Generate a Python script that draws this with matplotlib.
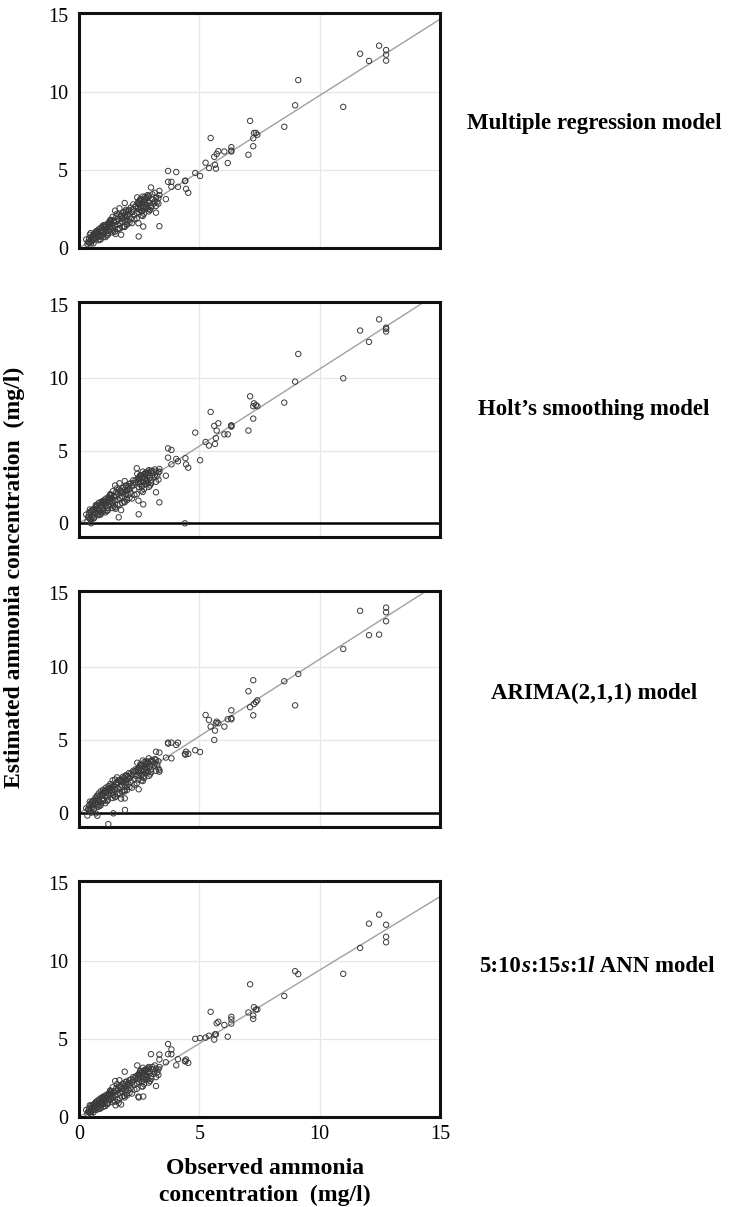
import numpy as np
import matplotlib
matplotlib.use("Agg")
import matplotlib.pyplot as plt
from matplotlib.offsetbox import TextArea, HPacker, AnnotationBbox

plt.rcParams['font.family'] = ['Liberation Serif', 'DejaVu Serif']

# observed values, shared by every panel (outliers first, then the dense cluster)
obs_high = [11.68, 12.05, 12.47, 12.76, 12.76, 12.76, 9.11, 8.98, 10.98, 8.53,
            7.11, 7.27, 7.35, 7.41, 7.24, 7.24, 7.04, 5.47, 6.33, 6.33,
            6.33, 6.04, 5.79, 5.72, 5.62, 6.18, 5.26, 5.65, 5.40, 5.69,
            4.83, 5.03, 4.42, 3.70, 4.04, 3.70, 3.84, 3.84, 4.11, 4.45,
            4.54, 3.61, 3.34, 3.34, 3.20, 3.34, 2.99, 2.48, 2.47, 2.67,
            1.90, 4.40]
obs_low = [0.30, 0.35, 0.38, 0.42, 0.45, 0.48, 0.50, 0.52, 0.55, 0.58,
           0.60, 0.62, 0.65, 0.68, 0.70, 0.72, 0.75, 0.78, 0.80, 0.82,
           0.85, 0.88, 0.90, 0.92, 0.95, 0.98, 1.00, 1.02, 1.05, 1.08,
           1.10, 1.12, 1.15, 1.18, 1.20, 1.22, 1.25, 1.28, 1.30, 1.33,
           1.35, 1.38, 1.40, 1.42, 1.45, 1.48, 1.50, 1.52, 1.55, 1.58,
           1.60, 1.62, 1.65, 1.68, 1.70, 1.72, 1.75, 1.78, 1.80, 1.83,
           1.85, 1.88, 1.90, 1.93, 1.95, 1.98, 2.00, 2.03, 2.05, 2.08,
           2.10, 2.15, 2.20, 2.25, 2.30, 2.35, 2.40, 2.42, 2.45, 2.48,
           2.50, 2.52, 2.55, 2.58, 2.60, 2.62, 2.65, 2.68, 2.70, 2.72,
           2.75, 2.78, 2.80, 2.82, 2.85, 2.88, 2.90, 2.95, 3.00, 3.05,
           3.10, 3.15, 3.20, 3.25, 3.30, 0.40, 0.55, 0.70, 1.00, 1.30]
obs_mid = [0.45, 0.60, 0.75, 0.90, 1.05, 1.20, 1.35, 1.50, 1.65, 1.80,
           1.95, 2.10, 2.25, 2.40, 2.55, 2.70, 2.85, 3.00, 3.15, 3.30,
           0.50, 0.65, 0.80, 0.95, 1.10, 1.25, 1.40, 1.55, 1.70, 1.85,
           2.00, 2.15, 2.30, 2.45, 2.60, 2.75, 2.90, 3.05, 3.20, 2.35,
           1.45, 1.60, 1.75, 1.90, 2.05, 2.20, 2.50, 2.65, 2.80, 2.95,
           0.85, 1.00, 1.15, 1.30, 2.45, 2.55, 2.60, 2.70, 2.80, 2.90]

# estimated values, multiple regression
mr_high = [12.48, 12.02, 13.00, 12.72, 12.42, 12.04, 10.79, 9.17, 9.07, 7.79,
           8.17, 7.39, 7.39, 7.28, 7.05, 6.54, 5.99, 7.07, 6.48, 6.26,
           6.20, 6.20, 6.22, 6.05, 5.86, 5.46, 5.48, 5.35, 5.14, 5.10,
           4.82, 4.63, 4.33, 4.95, 4.88, 4.25, 4.25, 3.93, 3.93, 3.80,
           3.55, 3.14, 3.67, 3.40, 2.27, 1.40, 3.89, 0.74, 1.59, 1.38,
           2.89, 4.30]
mr_low = [0.55, 0.25, 0.40, 0.60, 0.35, 0.95, 0.50, 0.70, 0.45, 0.80,
          0.55, 0.90, 0.65, 1.00, 0.60, 0.85, 1.10, 0.70, 0.95, 1.20,
          0.75, 1.05, 1.30, 0.80, 1.15, 1.00, 1.45, 0.90, 1.20, 1.35,
          1.05, 1.50, 1.25, 0.95, 1.40, 1.60, 1.15, 1.35, 1.75, 1.20,
          1.55, 1.30, 2.00, 1.10, 1.65, 1.45, 2.40, 0.90, 1.70, 2.20,
          1.50, 1.85, 1.25, 2.55, 1.60, 2.05, 0.85, 1.90, 1.70, 2.25,
          1.95, 1.40, 2.10, 1.80, 2.35, 1.55, 2.00, 2.20, 1.75, 2.45,
          2.15, 1.90, 2.30, 2.50, 2.10, 2.70, 2.25, 3.25, 2.55, 2.30,
          2.80, 2.45, 3.05, 2.60, 2.90, 2.35, 3.30, 2.70, 2.55, 3.10,
          2.85, 2.65, 3.20, 2.75, 3.00, 2.50, 3.35, 2.90, 2.70, 3.15,
          2.85, 3.00, 3.25, 2.95, 3.20, 0.35, 0.75, 1.05, 0.70, 1.80]
mr_mid = [0.85, 0.30, 1.10, 0.55, 1.45, 0.85, 1.80, 1.05, 2.15, 1.35,
          2.45, 1.65, 2.80, 1.90, 3.10, 2.20, 3.40, 2.60, 3.55, 2.85,
          0.30, 0.95, 0.50, 1.30, 0.70, 1.65, 1.00, 2.05, 1.25, 2.30,
          1.50, 2.60, 1.85, 2.95, 2.10, 3.30, 2.35, 3.45, 2.70, 2.65,
          1.75, 1.20, 2.10, 1.35, 2.40, 1.60, 3.00, 2.05, 3.25, 2.45,
          0.55, 1.35, 0.80, 1.60, 2.85, 3.15, 2.40, 3.05, 2.55, 3.30]

# Holt's smoothing
holt_high = [13.24, 12.46, 14.01, 13.44, 13.35, 13.17, 11.63, 9.73, 9.96, 8.29,
             8.72, 8.24, 8.11, 8.04, 8.04, 7.19, 6.37, 7.65, 6.73, 6.64,
             6.70, 6.11, 6.87, 6.37, 6.69, 6.11, 5.59, 5.45, 5.34, 5.85,
             6.23, 4.33, 4.47, 5.15, 4.42, 4.51, 5.04, 4.05, 4.26, 4.05,
             3.82, 3.27, 3.73, 3.55, 2.13, 1.44, 3.60, 0.62, 1.56, 1.30,
             2.90, 0.00]
holt_low = [0.60, 0.10, 0.45, 0.75, 0.30, 0.80, 0.00, 0.85, 0.40, 0.95,
            0.60, 0.35, 0.80, 1.10, 0.70, 1.00, 1.25, 0.65, 1.05, 1.40,
            0.85, 1.20, 1.45, 0.75, 1.30, 1.05, 1.55, 0.95, 1.35, 1.50,
            1.15, 1.70, 1.40, 1.05, 1.60, 1.80, 1.25, 1.50, 1.95, 1.30,
            1.70, 1.45, 2.20, 1.20, 1.85, 1.60, 2.60, 1.00, 1.90, 2.40,
            1.65, 2.05, 0.41, 2.75, 1.75, 2.25, 0.90, 2.10, 1.85, 2.45,
            2.15, 1.50, 2.30, 2.00, 2.55, 1.70, 2.20, 2.45, 1.95, 2.70,
            2.35, 2.10, 2.55, 2.75, 2.30, 2.95, 3.78, 3.40, 2.85, 2.50,
            3.05, 2.70, 3.30, 2.85, 3.15, 2.55, 3.55, 2.95, 2.80, 3.40,
            3.10, 2.90, 3.45, 3.00, 3.30, 2.75, 3.65, 3.15, 2.95, 3.45,
            3.15, 3.30, 3.55, 3.25, 3.50, 0.40, 0.90, 1.25, 0.80, 2.00]
holt_mid = [0.95, 0.35, 1.20, 0.60, 1.55, 0.90, 1.95, 1.10, 2.30, 1.40,
            2.60, 1.75, 2.95, 2.00, 3.25, 2.35, 3.55, 2.75, 3.70, 3.00,
            0.30, 1.00, 0.55, 1.40, 0.75, 1.75, 1.05, 2.15, 1.30, 2.45,
            1.60, 2.75, 1.95, 3.10, 2.25, 3.45, 2.50, 3.60, 2.85, 2.80,
            1.85, 1.25, 2.20, 1.45, 2.55, 1.70, 3.15, 2.15, 3.40, 2.60,
            0.60, 1.45, 0.85, 1.70, 3.00, 3.30, 2.55, 3.20, 2.70, 3.45]

# ARIMA(2,1,1)
arima_high = [13.80, 12.14, 12.18, 14.02, 13.70, 13.09, 9.50, 7.36, 11.20, 9.00,
              7.23, 7.45, 7.59, 7.70, 9.07, 6.68, 8.32, 5.91, 7.02, 6.48,
              6.41, 5.91, 6.14, 6.25, 5.00, 6.41, 6.70, 5.64, 6.36, 6.14,
              4.30, 4.18, 4.00, 4.82, 4.66, 4.75, 4.82, 3.75, 4.82, 4.20,
              4.05, 3.80, 4.14, 2.95, 4.20, 2.84, 3.60, 1.64, 2.30, 2.50,
              1.02, 4.05]
arima_low = [0.35, -0.15, 0.30, 0.55, 0.20, 0.65, 0.05, 0.75, 0.40, 0.85,
             0.55, 0.30, 0.75, 1.05, 0.65, 0.95, 1.20, 0.60, 1.00, 1.35,
             0.80, 1.15, 1.50, 0.70, 1.25, 1.00, 1.60, 0.90, 1.40, 1.55,
             1.20, 1.75, 1.45, 1.10, 1.65, 1.85, 1.30, 1.55, 2.00, 1.35,
             1.75, 1.50, 2.25, 1.25, 1.90, 1.65, 2.30, 1.15, 1.95, 2.45,
             1.70, 2.10, 1.40, 2.25, 1.80, 2.30, 1.00, 2.15, 1.90, 2.50,
             2.20, 1.60, 2.35, 2.05, 2.60, 1.80, 2.25, 2.50, 2.00, 2.75,
             2.40, 2.15, 2.60, 2.80, 2.35, 3.00, 2.55, 3.45, 2.90, 2.60,
             3.10, 2.75, 3.35, 2.90, 3.20, 2.65, 3.60, 3.00, 2.85, 3.50,
             3.15, 2.95, 3.55, 3.10, 3.40, 2.80, 3.75, 3.20, 3.00, 3.50,
             3.25, 3.40, 3.65, 3.30, 3.55, 0.25, 0.60, 0.00, 0.85, 1.60]
arima_mid = [0.80, 0.25, 1.15, 0.55, 1.50, 0.90, 1.90, 1.10, 2.25, 1.45,
             2.55, 1.80, 2.90, 2.05, 3.20, 2.40, 3.50, 2.80, 3.70, 3.05,
             0.15, 0.90, 0.45, 1.35, 0.70, 1.70, 1.05, 2.10, 1.30, 2.40,
             1.60, 2.70, 1.95, 3.05, 2.25, 3.40, 2.55, 3.60, 2.90, 2.85,
             1.80, 1.30, 2.20, 1.50, 2.50, 1.75, 3.10, 2.20, 3.35, 2.65,
             0.50, 1.40, 0.85, 1.70, 2.95, 3.25, 2.60, 3.15, 2.75, 3.45]
arima_extra_x = [1.22, 0.76, 1.43, 1.91]
arima_extra_y = [-0.73, -0.16, 0.00, 0.23]

# 5:10s:15s:1l ANN
ann_high = [10.82, 12.37, 12.95, 12.30, 11.53, 11.18, 9.14, 9.33, 9.16, 7.74,
            8.49, 7.03, 6.88, 6.88, 6.49, 6.28, 6.69, 6.73, 6.41, 6.24,
            5.98, 5.89, 6.09, 6.00, 4.95, 5.14, 5.08, 5.29, 5.20, 5.29,
            5.00, 5.05, 3.55, 4.67, 3.31, 4.02, 4.32, 4.02, 3.70, 3.68,
            3.46, 3.50, 4.00, 3.68, 1.98, 3.20, 4.02, 1.25, 1.31, 1.31,
            2.90, 3.60]
ann_low = [0.45, 0.20, 0.35, 0.55, 0.30, 0.70, 0.15, 0.60, 0.40, 0.75,
           0.50, 0.80, 0.55, 0.90, 0.45, 0.75, 1.00, 0.60, 0.85, 1.10,
           0.70, 0.95, 1.20, 0.75, 1.05, 0.90, 1.30, 0.85, 1.15, 1.25,
           1.00, 1.40, 1.20, 0.90, 1.35, 1.50, 1.10, 1.30, 1.65, 1.15,
           1.45, 1.25, 1.90, 1.05, 1.60, 1.40, 2.30, 0.75, 1.65, 2.10,
           1.45, 1.75, 0.90, 2.35, 1.55, 1.95, 0.80, 1.80, 1.65, 2.15,
           1.85, 1.35, 2.00, 1.70, 2.25, 1.50, 1.95, 2.10, 1.70, 2.35,
           2.05, 1.85, 2.20, 2.40, 2.05, 2.60, 2.15, 3.30, 2.45, 2.25,
           2.70, 2.40, 2.95, 2.55, 2.80, 2.30, 3.15, 2.60, 2.45, 3.00,
           2.75, 2.55, 3.05, 2.65, 2.90, 2.40, 3.20, 2.80, 2.60, 3.05,
           2.75, 2.90, 3.10, 2.85, 3.05, 0.30, 0.65, 0.95, 0.65, 1.70]
ann_mid = [0.75, 0.30, 1.00, 0.55, 1.30, 0.85, 1.65, 1.00, 1.95, 1.30,
           2.25, 1.55, 2.55, 1.80, 2.85, 2.10, 3.10, 2.45, 3.30, 2.70,
           0.30, 0.85, 0.50, 1.20, 0.70, 1.50, 0.95, 1.85, 1.20, 2.10,
           1.40, 2.40, 1.75, 2.70, 1.95, 3.00, 2.20, 3.20, 2.55, 2.50,
           1.60, 1.10, 1.95, 1.25, 2.20, 1.50, 2.80, 1.95, 3.00, 2.30,
           0.55, 1.25, 0.80, 1.50, 2.65, 2.95, 2.25, 2.85, 2.40, 3.10]

fit_slopes = [0.98, 1.06, 1.05, 0.94]
model_names = ["Multiple regression model", "Holt\u2019s smoothing model",
               "ARIMA(2,1,1) model", None]
ticks = [0, 5, 10, 15]

obs = obs_high + obs_low + obs_mid
panels = [
    (obs, mr_high + mr_low + mr_mid, (0, 15.1), False),
    (obs, holt_high + holt_low + holt_mid, (-0.94, 15.2), True),
    (obs + arima_extra_x, arima_high + arima_low + arima_mid + arima_extra_y,
     (-0.93, 15.15), True),
    (obs, ann_high + ann_low + ann_mid, (0, 15.1), False),
]

fig = plt.figure(figsize=(7.34, 12.07), dpi=100)
W, H = 734, 1207
boxes = [(13, 248), (302, 537), (591, 827), (881, 1117)]
label_y = [123, 410, 693, 967]
FS = 16.5

for i, ((x, y, ylim, zero_line), (top, bot)) in enumerate(zip(panels, boxes)):
    ax = fig.add_axes([79 / W, 1 - bot / H, (440 - 79) / W, (bot - top) / H])
    ax.set_xlim(0, 15)
    ax.set_ylim(*ylim)
    for v in (5, 10):
        ax.axvline(v, color='#e6e6e6', lw=0.9, zorder=0)
        ax.axhline(v, color='#e6e6e6', lw=0.9, zorder=0)
    xs = np.array([0, 16])
    ax.plot(xs, fit_slopes[i] * xs, color='#a0a0a0', lw=1.0, zorder=1)
    if zero_line:
        ax.axhline(0, color='black', lw=1.8, zorder=2)
    ax.scatter(x, y, s=15, facecolors='none', edgecolors='#3a3a3a',
               linewidths=0.7, zorder=3)
    ax.set_yticks(ticks)
    ax.set_xticks(ticks)
    ax.tick_params(length=0, labelsize=14.5, pad=8)
    if i < 3:
        ax.set_xticklabels([])
    else:
        ax.tick_params(axis='x', pad=6)
    for s in ax.spines.values():
        s.set_linewidth(2.2)
        s.set_color('#111111')

    if model_names[i] is not None:
        fig.text(594 / W, 1 - label_y[i] / H, model_names[i], ha='center',
                 va='center', fontsize=FS, fontweight='bold')
    else:
        bold = dict(fontsize=FS, fontweight='bold')
        ital = dict(fontsize=FS, fontweight='bold', fontstyle='italic')
        parts = [("5:10", bold), ("s", ital), (":15", bold), ("s", ital),
                 (":1", bold), ("l", ital), ("\u00a0ANN model", bold)]
        pack = HPacker(children=[TextArea(t, textprops=p) for t, p in parts],
                       pad=0, sep=0, align='baseline')
        ab = AnnotationBbox(pack, (597 / W, 1 - label_y[i] / H),
                            xycoords='figure fraction', frameon=False,
                            box_alignment=(0.5, 0.5))
        fig.add_artist(ab)

fig.text(14 / W, 1 - 577 / H, "Estimated ammonia concentration  (mg/l)",
         rotation=90, ha='center', va='center', fontsize=17, fontweight='bold')
fig.text(265 / W, 1 - 1168 / H, "Observed ammonia", ha='center', va='center',
         fontsize=17, fontweight='bold')
fig.text(265 / W, 1 - 1195 / H, "concentration  (mg/l)", ha='center',
         va='center', fontsize=17, fontweight='bold')

fig.savefig("out.png", dpi=100)
